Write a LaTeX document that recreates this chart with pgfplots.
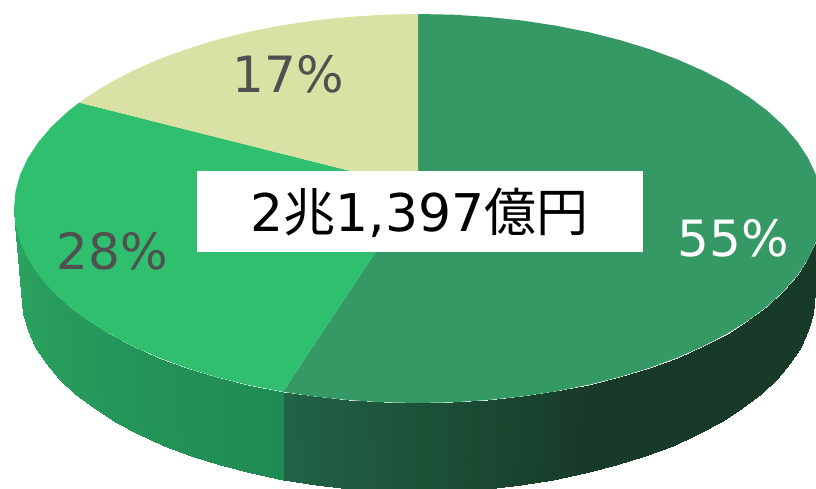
\documentclass[border=0pt]{standalone}
\usepackage{pgfplots}
\pgfplotsset{compat=1.18}
\usepackage{fontspec}
\setmainfont{DejaVu Sans}
\newfontfamily\cjk{Noto Sans CJK JP}
\definecolor{sliceA}{RGB}{53,153,102}
\definecolor{sliceB}{RGB}{47,191,111}
\definecolor{sliceC}{RGB}{218,225,164}
\definecolor{labelgrey}{RGB}{80,80,80}
\begin{document}
\begin{tikzpicture}
\begin{axis}[
  width=816pt, height=489pt, scale only axis,
  xmin=0, xmax=816, ymin=0, ymax=489, y dir=reverse,
  hide axis, clip=true,
  colormap={sidemap}{rgb255(0cm)=(24,58,40); rgb255(10cm)=(28,82,57); rgb255(20cm)=(34,99,72); rgb255(30cm)=(31,139,84); rgb255(60cm)=(45,167,98)},
  point meta min=0, point meta max=60,
]
% page background, keeps the picture at the full size
\addplot[fill=white, draw=none] coordinates {(0,0)(816,0)(816,489)(0,489)} -- cycle;
% side, right part (the 55% slice)
\addplot[patch, patch type=rectangle, shader=interp, point meta=explicit] coordinates {
(822,208.5)[0] (820.5,225.45)[0] (812.5,313.5)[0] (814,296.5)[0]
(820.5,225.45)[0] (815.9,242.3)[0] (808,330.4)[0] (812.5,313.5)[0]
(815.9,242.3)[0] (808.2,258.8)[0] (800.5,347)[0] (808,330.4)[0]
(808.2,258.8)[0] (797.6,275)[0] (790.1,363.2)[0] (800.5,347)[0]
(797.6,275)[0] (784.1,290.7)[0] (776.9,378.9)[0] (790.1,363.2)[0]
(784.1,290.7)[0] (767.9,305.75)[0] (760.9,394)[0] (776.9,378.9)[0]
(767.9,305.75)[0] (748.9,320.1)[0] (742.4,408.3)[0] (760.9,394)[0]
(748.9,320.1)[0] (727.5,333.5)[0] (721.4,421.8)[0] (742.4,408.3)[0]
(727.5,333.5)[0] (703.7,346)[0] (698,434.4)[0] (721.4,421.8)[0]
(703.7,346)[0] (677.7,357.5)[0] (672.5,446)[0] (698,434.4)[0]
(677.7,357.5)[0] (649.7,367.8)[0] (645.1,456.2)[0] (672.5,446)[0]
(649.7,367.8)[0] (620,376.9)[0] (616,465.4)[0] (645.1,456.2)[0]
(620,376.9)[0] (588.7,384.8)[0] (585.4,473.2)[0] (616,465.4)[0]
(588.7,384.8)[0] (556.2,391.3)[2] (553.4,479.7)[2] (585.4,473.2)[0]
(556.2,391.3)[2] (522.6,396.4)[4] (520.5,484.9)[4] (553.4,479.7)[2]
(522.6,396.4)[4] (488.2,400)[6] (486.8,488.5)[6] (520.5,484.9)[4]
(488.2,400)[6] (453.2,402.3)[8] (452.5,490.8)[8] (486.8,488.5)[6]
(453.2,402.3)[8] (418,403)[10] (418,491.5)[10] (452.5,490.8)[8]
(418,403)[10] (382.8,402.3)[12.5] (383.5,490.8)[12.5] (418,491.5)[10]
(382.8,402.3)[12.5] (347.8,400)[15] (349.2,488.5)[15] (383.5,490.8)[12.5]
(347.8,400)[15] (313.4,396.4)[17.5] (315.5,484.9)[17.5] (349.2,488.5)[15]
(313.4,396.4)[17.5] (283,391.8)[20] (283,480)[20] (315.5,484.9)[17.5]
};
% side, left part (the 28% slice)
\addplot[patch, patch type=rectangle, shader=interp, point meta=explicit] coordinates {
(283,391.8)[30] (247.3,384.8)[32] (250.6,473.2)[32] (283,480)[30]
(247.3,384.8)[32] (216,376.9)[34] (220,465.4)[34] (250.6,473.2)[32]
(216,376.9)[34] (186.3,367.8)[36] (190.9,456.2)[36] (220,465.4)[34]
(186.3,367.8)[36] (158.3,357.5)[38] (163.5,446)[38] (190.9,456.2)[36]
(158.3,357.5)[38] (132.3,346)[40] (138,434.4)[40] (163.5,446)[38]
(132.3,346)[40] (108.5,333.5)[42] (114.6,421.8)[42] (138,434.4)[40]
(108.5,333.5)[42] (87.1,320.1)[44] (93.6,408.3)[44] (114.6,421.8)[42]
(87.1,320.1)[44] (68.1,305.75)[46] (75.1,394)[46] (93.6,408.3)[44]
(68.1,305.75)[46] (51.9,290.7)[48] (59.1,378.9)[48] (75.1,394)[46]
(51.9,290.7)[48] (38.4,275)[50] (45.9,363.2)[50] (59.1,378.9)[48]
(38.4,275)[50] (27.8,258.8)[52] (35.5,347)[52] (45.9,363.2)[50]
(27.8,258.8)[52] (20.1,242.3)[54] (28,330.4)[54] (35.5,347)[52]
(20.1,242.3)[54] (15.5,225.45)[56] (23.5,313.5)[56] (28,330.4)[54]
(15.5,225.45)[56] (14,208.5)[58] (22,296.5)[58] (23.5,313.5)[56]
};
% top faces
\addplot[fill=sliceA, draw=none] coordinates {
(418,188)(418,14)(453.2,14.7)(488.2,17)(522.6,20.6)(556.2,25.7)(588.7,32.2)(620,40.1)(649.7,49.2)(677.7,59.5)(703.7,71)(727.5,83.5)(748.9,96.9)(767.9,111.25)(784.1,126.3)(797.6,142)(808.2,158.2)(815.9,174.7)(820.5,191.55)(822,208.5)(820.5,225.45)(815.9,242.3)(808.2,258.8)(797.6,275)(784.1,290.7)(767.9,305.75)(748.9,320.1)(727.5,333.5)(703.7,346)(677.7,357.5)(649.7,367.8)(620,376.9)(588.7,384.8)(556.2,391.3)(522.6,396.4)(488.2,400)(453.2,402.3)(418,403)(382.8,402.3)(347.8,400)(313.4,396.4)(283,391.8)
} -- cycle;
\addplot[fill=sliceB, draw=none] coordinates {
(418,188)(283,391.8)(247.3,384.8)(216,376.9)(186.3,367.8)(158.3,357.5)(132.3,346)(108.5,333.5)(87.1,320.1)(68.1,305.75)(51.9,290.7)(38.4,275)(27.8,258.8)(20.1,242.3)(15.5,225.45)(14,208.5)(15.5,191.55)(20.1,174.7)(27.8,158.2)(38.4,142)(51.9,126.3)(68.1,111.25)(79.2,102.6)
} -- cycle;
\addplot[fill=sliceC, draw=none] coordinates {
(418,188)(79.2,102.6)(87.1,96.9)(108.5,83.5)(132.3,71)(158.3,59.5)(186.3,49.2)(216,40.1)(247.3,32.2)(279.8,25.7)(313.4,20.6)(347.8,17)(382.8,14.7)(418,14)
} -- cycle;
% central box
\addplot[fill=white, draw=none] coordinates {(197,171)(643,171)(643,252)(197,252)} -- cycle;
\node[text=black, inner sep=0pt] at (axis cs:419.5,213) {\fontsize{52}{52}\selectfont 2{\cjk 兆}1,397{\cjk 億円}};
\node[text=white, inner sep=0pt] at (axis cs:733,238) {\fontsize{50}{50}\selectfont 55\%};
\node[text=labelgrey, inner sep=0pt] at (axis cs:112,251) {\fontsize{50}{50}\selectfont 28\%};
\node[text=labelgrey, inner sep=0pt] at (axis cs:288,74) {\fontsize{50}{50}\selectfont 17\%};
\end{axis}
\end{tikzpicture}
\end{document}
